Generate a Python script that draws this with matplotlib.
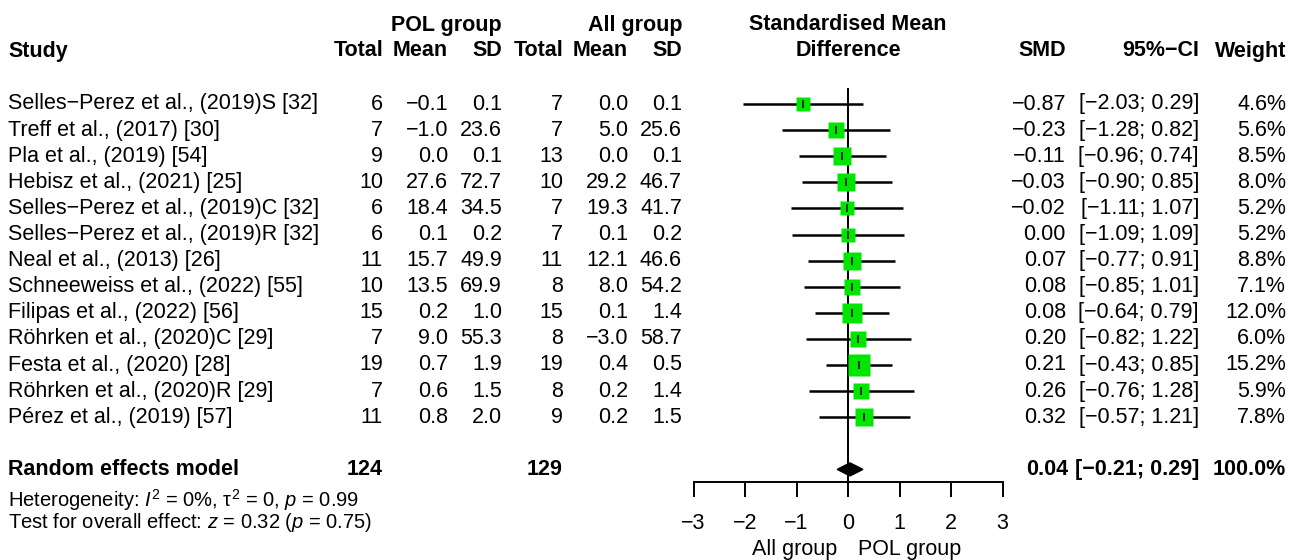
import numpy as np
import matplotlib
matplotlib.use("Agg")
import matplotlib.pyplot as plt

plt.rcParams['font.family'] = ['Liberation Sans', 'DejaVu Sans']
plt.rcParams['mathtext.fontset'] = 'custom'
plt.rcParams['mathtext.rm'] = 'Liberation Sans'
plt.rcParams['mathtext.it'] = 'Liberation Sans:italic'
plt.rcParams['axes.unicode_minus'] = True

# data
studies = ["Selles\u2212Perez et al., (2019)S [32]", "Treff et al., (2017) [30]",
           "Pla et al., (2019) [54]", "Hebisz et al., (2021) [25]",
           "Selles\u2212Perez et al., (2019)C [32]", "Selles\u2212Perez et al., (2019)R [32]",
           "Neal et al., (2013) [26]", "Schneeweiss et al., (2022) [55]",
           "Filipas et al., (2022) [56]", "Röhrken et al., (2020)C [29]",
           "Festa et al., (2020) [28]", "Röhrken et al., (2020)R [29]",
           "Pérez et al., (2019) [57]"]
pol_n = [6, 7, 9, 10, 6, 6, 11, 10, 15, 7, 19, 7, 11]
pol_mean = [-0.1, -1.0, 0.0, 27.6, 18.4, 0.1, 15.7, 13.5, 0.2, 9.0, 0.7, 0.6, 0.8]
pol_sd = [0.1, 23.6, 0.1, 72.7, 34.5, 0.2, 49.9, 69.9, 1.0, 55.3, 1.9, 1.5, 2.0]
all_n = [7, 7, 13, 10, 7, 7, 11, 8, 15, 8, 19, 8, 9]
all_mean = [0.0, 5.0, 0.0, 29.2, 19.3, 0.1, 12.1, 8.0, 0.1, -3.0, 0.4, 0.2, 0.2]
all_sd = [0.1, 25.6, 0.1, 46.7, 41.7, 0.2, 46.6, 54.2, 1.4, 58.7, 0.5, 1.4, 1.5]
smd = [-0.87, -0.23, -0.11, -0.03, -0.02, 0.00, 0.07, 0.08, 0.08, 0.20, 0.21, 0.26, 0.32]
ci_low = [-2.03, -1.28, -0.96, -0.90, -1.11, -1.09, -0.77, -0.85, -0.64, -0.82, -0.43, -0.76, -0.57]
ci_high = [0.29, 0.82, 0.74, 0.85, 1.07, 1.09, 0.91, 1.01, 0.79, 1.22, 0.85, 1.28, 1.21]
weight = [4.6, 5.6, 8.5, 8.0, 5.2, 5.2, 8.8, 7.1, 12.0, 6.0, 15.2, 5.9, 7.8]
pooled = {"n1": 124, "n2": 129, "smd": 0.04, "low": -0.21, "high": 0.29, "w": 100.0}
x_ticks = [-3, -2, -1, 0, 1, 2, 3]


def f(v, d):
    return f"{v:.{d}f}".replace("-", "\u2212")


W, H = 1289, 560
fig = plt.figure(figsize=(W / 100, H / 100), dpi=100)

# text layer in pixel coordinates
tx = fig.add_axes([0, 0, 1, 1])
tx.set_xlim(0, W)
tx.set_ylim(H, 0)
tx.axis('off')

fs = 15.5
row_y0, row_dy = 104, 26.1
rows_y = [row_y0 + i * row_dy for i in range(len(studies))]
pool_y = row_y0 + (len(studies) + 1) * row_dy

# header
hy1, hy2 = 25, 51
tx.text(8, hy2, "Study", fontsize=fs, fontweight='bold', va='center')
tx.text(502, hy1, "POL group", fontsize=fs, fontweight='bold', va='center', ha='right')
tx.text(682, hy1, "All group", fontsize=fs, fontweight='bold', va='center', ha='right')
cols = [(383, "Total"), (448, "Mean"), (502, "SD"), (563, "Total"), (628, "Mean"), (682, "SD"),
        (1066, "SMD"), (1199, "95%\u2212CI"), (1286, "Weight")]
for x, lab in cols:
    tx.text(x, hy2, lab, fontsize=fs, fontweight='bold', va='center', ha='right')
tx.text(848, hy1, "Standardised Mean", fontsize=fs, fontweight='bold', va='center', ha='center')
tx.text(848, hy2, "Difference", fontsize=fs, fontweight='bold', va='center', ha='center')

# study rows
for i, y in enumerate(rows_y):
    tx.text(8, y, studies[i], fontsize=fs, va='center')
    vals = [str(pol_n[i]), f(pol_mean[i], 1), f(pol_sd[i], 1),
            str(all_n[i]), f(all_mean[i], 1), f(all_sd[i], 1),
            f(smd[i], 2), f"[{f(ci_low[i], 2)}; {f(ci_high[i], 2)}]", f"{weight[i]:.1f}%"]
    for (x, _), v in zip(cols, vals):
        tx.text(x, y, v, fontsize=fs, va='center', ha='right')

# pooled row
tx.text(8, pool_y, "Random effects model", fontsize=fs, fontweight='bold', va='center')
pvals = {383: str(pooled["n1"]), 563: str(pooled["n2"]), 1068: f(pooled["smd"], 2),
         1199: f"[{f(pooled['low'], 2)}; {f(pooled['high'], 2)}]", 1286: f"{pooled['w']:.1f}%"}
for x, v in pvals.items():
    tx.text(x, pool_y, v, fontsize=fs, fontweight='bold', va='center', ha='right')

tx.text(8, 500, r"Heterogeneity: $I^2$ = 0%, $\mathrm{\tau}^2$ = 0, $p$ = 0.99", fontsize=14.5, va='center')
tx.text(8, 523, r"Test for overall effect: $z$ = 0.32 ($p$ = 0.75)", fontsize=14.5, va='center')
tx.text(837, 550, "All group", fontsize=fs, va='center', ha='right')
tx.text(858, 550, "POL group", fontsize=fs, va='center', ha='left')

# forest panel
x0px, x1px = 693.5, 1002.5
top_px, axis_px = 88, 482


def prow(px):
    return (px - row_y0) / row_dy


ax = fig.add_axes([x0px / W, 1 - axis_px / H, (x1px - x0px) / W, (axis_px - top_px) / H])
ax.patch.set_alpha(0)
ax.set_xlim(-3, 3)
ax.set_ylim(prow(axis_px), prow(top_px))
for s in ['top', 'left', 'right']:
    ax.spines[s].set_visible(False)
ax.spines['bottom'].set_linewidth(1.4)
ax.set_yticks([])
ax.set_xticks(x_ticks)
ax.tick_params(axis='x', direction='out', length=11, width=1.4, pad=11, labelsize=fs)
ax.axvline(0, color='black', lw=1.4)

idx = np.arange(len(studies))
ax.hlines(idx, ci_low, ci_high, color='black', lw=1.8)
side_px = 14 * (np.array(weight) / weight[0]) ** 0.4
for i in idx:
    ax.plot(smd[i], i, marker='s', ms=side_px[i] * 0.72, color='#00e600', mec='none', ls='none')
ax.plot(smd, idx, marker='|', ms=6, mew=1.1, color='black', ls='none')

pi = prow(pool_y)
dh = 6.5 / row_dy
ax.fill([pooled["low"], pooled["smd"], pooled["high"], pooled["smd"]],
        [pi, pi - dh, pi, pi + dh], color='black', clip_on=False)

fig.savefig("out.png", dpi=100)
